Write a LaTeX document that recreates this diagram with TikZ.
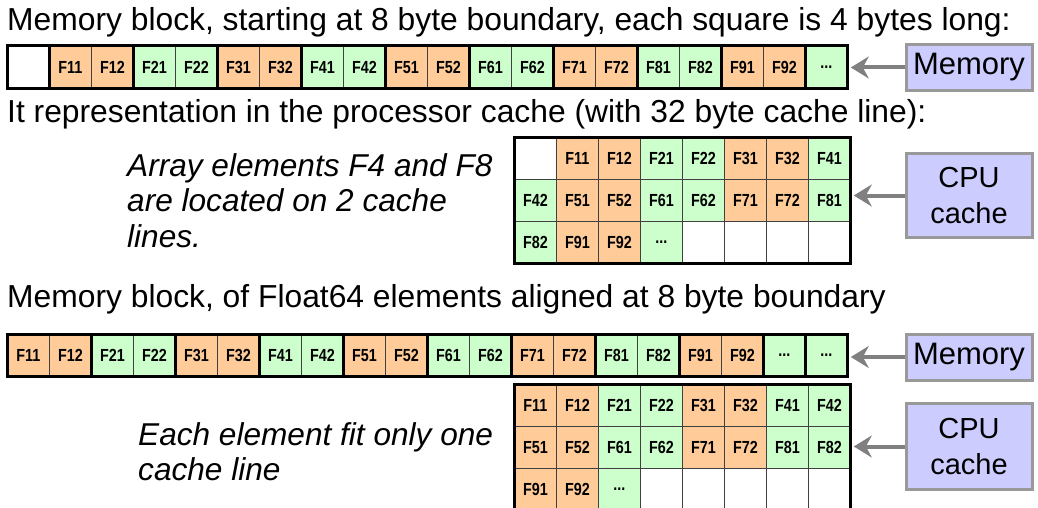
\documentclass[tikz,border=0pt]{standalone}
\usepackage{fontspec}
\setmainfont{Liberation Sans}
\newfontfamily\cellfont[FakeStretch=0.82]{Liberation Sans}
\usetikzlibrary{arrows.meta}
\definecolor{orc}{HTML}{FFCC99}
\definecolor{grc}{HTML}{CCFFCC}
\definecolor{boxc}{HTML}{CCCCFF}
\definecolor{boxb}{HTML}{999999}
\definecolor{arrc}{HTML}{808080}
\newcommand\myellip{...}
\begin{document}
\begin{tikzpicture}[x=1pt,y=-1pt,
  cell/.style={draw=black!75, line width=0.8pt, minimum width=42pt, minimum height=42pt,
    inner sep=0pt, anchor=north west, font=\cellfont\bfseries\fontsize{17.5}{17.5}\selectfont},
  thickline/.style={draw=black, line width=3pt},
  sidebox/.style={draw=boxb, line width=3pt, fill=boxc, inner sep=0pt, minimum width=126pt,
    align=center, font=\fontsize{31}{36}\selectfont},
  arr/.style={draw=arrc, line width=4pt, -{Stealth[length=18pt,width=22pt,inset=6pt]}, shorten >=3pt},
  title/.style={anchor=base west, inner sep=0pt, font=\fontsize{31.8}{37}\selectfont},
  note/.style={anchor=north west, inner sep=0pt, align=left, font=\itshape\fontsize{31.6}{35.5}\selectfont}
]
\useasboundingbox (0,0) rectangle (1038,508);
\clip (0,0) rectangle (1038,508);

% ---------- titles ----------
\node[title] (t1) at (7,31) {Memory block, starting at 8 byte boundary, each square is 4 bytes long:};
\node[title] (t2) at (7,123) {It representation in the processor cache (with 32 byte cache line):};
\node[title] (t3) at (7,307) {Memory block, of Float64 elements aligned at 8 byte boundary};

% ---------- memory row 1 ----------
\foreach \i/\t/\c in {0//white,1/F11/orc,2/F12/orc,3/F21/grc,4/F22/grc,5/F31/orc,6/F32/orc,
  7/F41/grc,8/F42/grc,9/F51/orc,10/F52/orc,11/F61/grc,12/F62/grc,13/F71/orc,14/F72/orc,
  15/F81/grc,16/F82/grc,17/F91/orc,18/F92/orc,19/\myellip/grc}
  \node[cell, fill=\c] (ma\i) at ({7+42*\i},46) {\t};
\foreach \k in {1,3,5,7,9,11,13,15,17,19}
  \draw[thickline] (ma\k.north west) -- (ma\k.south west);
\draw[thickline] (ma0.north west) rectangle (ma19.south east);

% ---------- cache grid 1 ----------
\foreach \c/\t/\f in {0//white,1/F11/orc,2/F12/orc,3/F21/grc,4/F22/grc,5/F31/orc,6/F32/orc,7/F41/grc}
  \node[cell, fill=\f] (ga0\c) at ({514+42*\c},137) {\t};
\foreach \c/\t/\f in {0/F42/grc,1/F51/orc,2/F52/orc,3/F61/grc,4/F62/grc,5/F71/orc,6/F72/orc,7/F81/grc}
  \node[cell, fill=\f] (ga1\c) at ({514+42*\c},179) {\t};
\foreach \c/\t/\f in {0/F82/grc,1/F91/orc,2/F92/orc,3/\myellip/grc,4//white,5//white,6//white,7//white}
  \node[cell, fill=\f] (ga2\c) at ({514+42*\c},221) {\t};
\draw[thickline] (ga00.north west) rectangle (ga27.south east);

\node[note] (n1) at (127,153) {Array elements F4 and F8\\are located on 2 cache\\lines.};

% ---------- memory row 2 ----------
\foreach \i/\t/\c in {0/F11/orc,1/F12/orc,2/F21/grc,3/F22/grc,4/F31/orc,5/F32/orc,
  6/F41/grc,7/F42/grc,8/F51/orc,9/F52/orc,10/F61/grc,11/F62/grc,12/F71/orc,13/F72/orc,
  14/F81/grc,15/F82/grc,16/F91/orc,17/F92/orc,18/\myellip/grc,19/\myellip/grc}
  \node[cell, fill=\c] (mb\i) at ({7+42*\i},334) {\t};
\foreach \k in {2,4,6,8,10,12,14,16,18,19}
  \draw[thickline] (mb\k.north west) -- (mb\k.south west);
\draw[thickline] (mb0.north west) rectangle (mb19.south east);

% ---------- cache grid 2 ----------
\foreach \c/\t/\f in {0/F11/orc,1/F12/orc,2/F21/grc,3/F22/grc,4/F31/orc,5/F32/orc,6/F41/grc,7/F42/grc}
  \node[cell, fill=\f] (gb0\c) at ({514+42*\c},384) {\t};
\foreach \c/\t/\f in {0/F51/orc,1/F52/orc,2/F61/grc,3/F62/grc,4/F71/orc,5/F72/orc,6/F81/grc,7/F82/grc}
  \node[cell, fill=\f] (gb1\c) at ({514+42*\c},426) {\t};
\foreach \c/\t/\f in {0/F91/orc,1/F92/orc,2/\myellip/grc,3//white,4//white,5//white,6//white,7//white}
  \node[cell, fill=\f] (gb2\c) at ({514+42*\c},468) {\t};
\draw[thickline] (gb00.north west) rectangle (gb27.south east);

\node[note] (n2) at (138,422) {Each element fit only one\\cache line};

% ---------- side boxes ----------
\node[sidebox, minimum height=46pt] (mem1) at (969,67.5) {Memory};
\node[sidebox, minimum height=84pt, font=\fontsize{29}{36}\selectfont] (cpu1) at (969,195.5) {CPU\\cache};
\node[sidebox, minimum height=46pt] (mem2) at (969,357) {Memory};
\node[sidebox, minimum height=86pt, font=\fontsize{29}{36}\selectfont] (cpu2) at (969,446.5) {CPU\\cache};

% ---------- arrows ----------
\draw[arr] (mem1.west) -- (mem1.west -| ma19.east);
\draw[arr] (cpu1.west) -- (cpu1.west -| ga17.east);
\draw[arr] (mem2.west) -- (mem2.west -| mb19.east);
\draw[arr] (cpu2.west) -- (cpu2.west -| gb17.east);
\end{tikzpicture}
\end{document}
